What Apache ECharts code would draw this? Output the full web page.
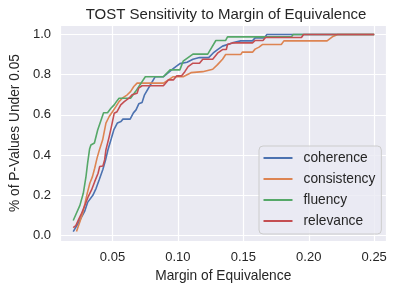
<!DOCTYPE html>
<html>
<head>
<meta charset="utf-8">
<script src="https://cdn.jsdelivr.net/npm/echarts@6/dist/echarts.min.js"></script>
<style>html,body{margin:0;padding:0;background:#fff}#c{width:396px;height:290px}</style>
</head>
<body>
<div id="c"></div>
<script>
// [margin, share of p-values under 0.05]
const coherence = [[0.020,0.020],[0.0237,0.060],[0.0287,0.120],[0.031,0.165],[0.035,0.200],[0.0375,0.235],[0.040,0.280],[0.0427,0.330],[0.0447,0.376],[0.0465,0.425],[0.049,0.480],[0.051,0.525],[0.0538,0.560],[0.0565,0.567],[0.058,0.579],[0.0635,0.579],[0.066,0.610],[0.068,0.625],[0.0701,0.655],[0.0726,0.662],[0.0745,0.700],[0.079,0.750],[0.0827,0.790],[0.089,0.790],[0.0927,0.810],[0.0964,0.830],[0.1015,0.855],[0.107,0.862],[0.1115,0.877],[0.1165,0.885],[0.1235,0.885],[0.127,0.908],[0.1303,0.925],[0.1341,0.942],[0.1416,0.958],[0.148,0.968],[0.157,0.968],[0.159,0.983],[0.166,0.983],[0.168,1.0],[0.25,1.0]];
const consistency = [[0.0225,0.020],[0.0251,0.069],[0.0272,0.111],[0.029,0.160],[0.0307,0.210],[0.0327,0.260],[0.0347,0.293],[0.0364,0.335],[0.0382,0.385],[0.040,0.426],[0.0425,0.476],[0.045,0.559],[0.0475,0.592],[0.050,0.616],[0.0526,0.641],[0.055,0.666],[0.0575,0.683],[0.0613,0.700],[0.0638,0.716],[0.0663,0.741],[0.0688,0.758],[0.089,0.758],[0.0927,0.774],[0.0965,0.790],[0.104,0.790],[0.107,0.800],[0.110,0.810],[0.119,0.815],[0.1266,0.827],[0.1303,0.850],[0.1341,0.877],[0.1365,0.900],[0.148,0.900],[0.1492,0.912],[0.157,0.912],[0.159,0.927],[0.162,0.937],[0.1645,0.950],[0.179,0.950],[0.181,0.968],[0.214,0.968],[0.2185,0.990],[0.222,1.0],[0.25,1.0]];
const fluency = [[0.020,0.075],[0.0251,0.150],[0.0277,0.210],[0.0297,0.290],[0.031,0.360],[0.0325,0.430],[0.0335,0.450],[0.0362,0.460],[0.0387,0.525],[0.0432,0.611],[0.0462,0.611],[0.0488,0.633],[0.0513,0.650],[0.053,0.666],[0.055,0.683],[0.0638,0.683],[0.0676,0.716],[0.0751,0.790],[0.0889,0.790],[0.094,0.824],[0.1015,0.824],[0.104,0.867],[0.1115,0.902],[0.1228,0.902],[0.129,0.970],[0.1365,0.970],[0.1379,0.988],[0.1868,0.988],[0.188,1.0],[0.25,1.0]];
const relevance = [[0.020,0.040],[0.022,0.050],[0.024,0.078],[0.0264,0.111],[0.029,0.152],[0.0315,0.194],[0.034,0.227],[0.0364,0.268],[0.039,0.310],[0.0402,0.343],[0.0427,0.346],[0.044,0.376],[0.045,0.426],[0.0475,0.492],[0.0492,0.542],[0.0513,0.608],[0.0535,0.616],[0.0563,0.650],[0.059,0.666],[0.0626,0.683],[0.065,0.700],[0.0688,0.708],[0.070,0.733],[0.0726,0.745],[0.0889,0.745],[0.0927,0.774],[0.0965,0.774],[0.099,0.794],[0.1027,0.794],[0.1053,0.815],[0.1078,0.840],[0.1115,0.857],[0.1165,0.857],[0.119,0.877],[0.1266,0.877],[0.1303,0.907],[0.1341,0.925],[0.137,0.925],[0.1379,0.950],[0.1416,0.958],[0.157,0.958],[0.159,0.970],[0.165,0.970],[0.167,0.985],[0.1944,0.985],[0.196,1.0],[0.25,1.0]];

const seriesNames = ['coherence','consistency','fluency','relevance'];
const seriesData = [coherence, consistency, fluency, relevance];
const colors = ['#4C72B0','#DD8452','#55A868','#C44E52'];

const FONT = 'Liberation Sans, Arial, sans-serif';
const TXT = '#262626';

const chart = echarts.init(document.getElementById('c'), null, {renderer:'canvas'});
chart.setOption({
  animation: false,
  backgroundColor: '#ffffff',
  title: {
    text: 'TOST Sensitivity to Margin of Equivalence',
    left: 221, top: 2, textAlign: 'center',
    textStyle: {fontFamily: FONT, fontSize: 15, fontWeight: 'normal', color: TXT}
  },
  grid: {left: 55, right: 9.5, top: 25, bottom: 49, show: true, backgroundColor: '#EAEAF2', borderWidth: 0, containLabel: false},
  legend: {
    data: seriesNames,
    orient: 'vertical', left: 259, top: 146,
    icon: 'rect', itemWidth: 29, itemHeight: 2, itemGap: 7,
    padding: [5, 6, 6, 4.5],
    backgroundColor: 'rgba(234,234,242,0.8)', borderColor: '#cccccc', borderWidth: 1, borderRadius: 4,
    textStyle: {fontFamily: FONT, fontSize: 13.75, color: TXT, lineHeight: 14, padding: [0,0,0,6]}
  },
  xAxis: {
    type: 'value', min: 0.0099, max: 0.2594,
    name: 'Margin of Equivalence', nameLocation: 'middle', nameGap: 26,
    nameTextStyle: {fontFamily: FONT, fontSize: 13.75, color: TXT},
    axisLine: {show: false}, axisTick: {show: false},
    axisLabel: {showMinLabel: false, showMaxLabel: false, margin: 10, fontFamily: FONT, fontSize: 13, color: TXT, formatter: v => v.toFixed(2)},
    splitLine: {show: true, lineStyle: {color: '#ffffff', width: 1.2}}
  },
  yAxis: {
    type: 'value', min: -0.027, max: 1.047,
    name: '% of P-Values Under 0.05', nameLocation: 'middle', nameGap: 38,
    nameTextStyle: {fontFamily: FONT, fontSize: 13.75, color: TXT},
    axisLine: {show: false}, axisTick: {show: false},
    axisLabel: {showMinLabel: false, showMaxLabel: false, margin: 9, fontFamily: FONT, fontSize: 13, color: TXT, formatter: v => v.toFixed(1)},
    splitLine: {show: true, lineStyle: {color: '#ffffff', width: 1.2}}
  },
  series: seriesNames.map((n, i) => ({
    name: n, type: 'line', data: seriesData[i], showSymbol: false, symbol: 'none',
    color: colors[i], lineStyle: {color: colors[i], width: 1.6}, z: 2 + i
  }))
});
</script>
</body>
</html>
